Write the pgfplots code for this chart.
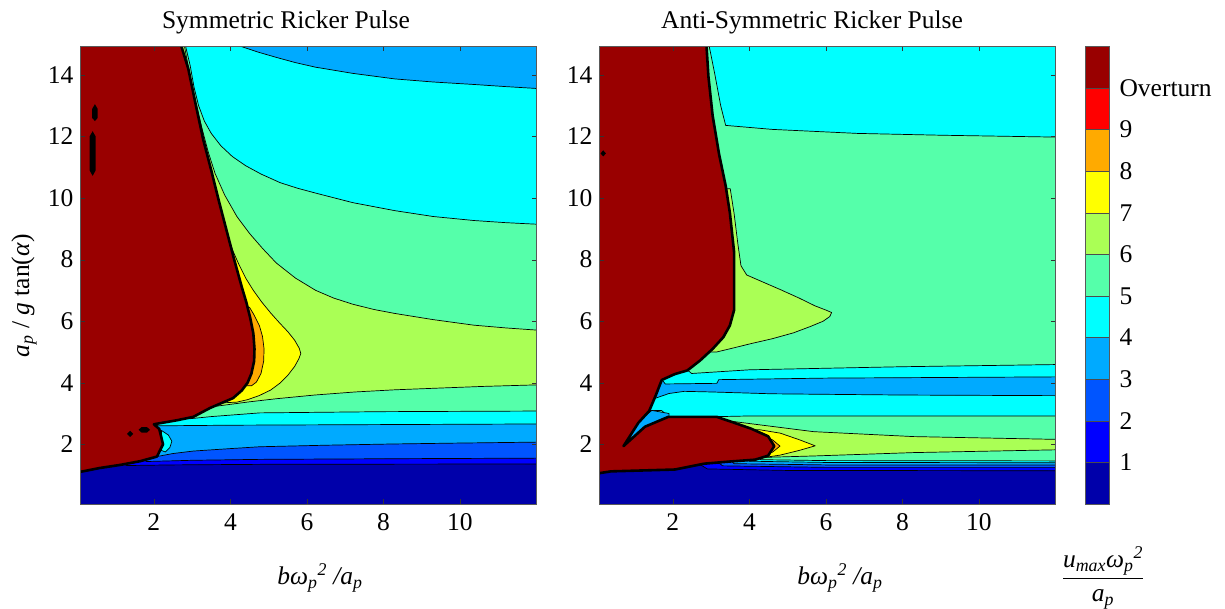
\documentclass[border=0pt]{standalone}
\usepackage{pgfplots}
\pgfplotsset{compat=1.18}
\usepackage{fontspec}
\setmainfont{Liberation Serif}
\newcommand\bigf{\fontsize{25.5}{30}\selectfont}
\definecolor{c0}{RGB}{0,0,170}
\definecolor{c1}{RGB}{0,0,255}
\definecolor{c2}{RGB}{0,85,255}
\definecolor{c3}{RGB}{0,170,255}
\definecolor{c4}{RGB}{0,255,255}
\definecolor{c5}{RGB}{85,255,170}
\definecolor{c6}{RGB}{170,255,85}
\definecolor{c7}{RGB}{255,255,0}
\definecolor{c8}{RGB}{255,170,0}
\definecolor{c9}{RGB}{255,0,0}
\definecolor{c10}{RGB}{153,0,0}
\pgfplotsset{
  cplot/.style={scale only axis, anchor=south west, width=456.5pt, height=457.7pt,
    xmin=0.07, xmax=12, ymin=0.06, ymax=14.93,
    xtick={2,4,6,8,10}, ytick={2,4,6,8,10,12,14},
    tick align=inside, major tick length=5pt, axis on top,
    axis line style={draw=black!65}, tick style={black!80},
    every tick label/.append style={font=\bigf},
    /pgf/number format/assume math mode=true,
    xticklabel style={yshift=-6pt}, yticklabel style={xshift=-3pt}},
  band/.style={fill=#1, draw=black, line width=0.7pt, line join=round},
  red/.style={fill=c10, draw=black, line width=2.6pt, line join=round},
}
\begin{document}
\begin{tikzpicture}[x=1pt,y=1pt]
\path[use as bounding box] (0,0) rectangle (1225,608);
% ---------------- left: symmetric
\begin{axis}[cplot, at={(80pt,104pt)}]
\addplot[fill=c0, draw=none] coordinates {(0,0) (12.5,0) (12.5,15.5) (0,15.5)} -- cycle;
\addplot[band=c1] coordinates {(0.9,1.6) (1.29,1.31) (2.5,1.33) (5,1.35) (12,1.36) (12.5,1.36) (12.5,15.5) (0,15.5) (0,1.6)} -- cycle;
\addplot[band=c2] coordinates {(1.5,1.7) (1.81,1.44) (3,1.48) (4.77,1.51) (8,1.53) (12,1.55) (12.5,1.55) (12.5,15.5) (0,15.5) (0,1.7)} -- cycle;
\addplot[band=c3] coordinates {(1.9,1.9) (2.07,1.6) (2.5,1.7) (3.03,1.78) (4.0,1.86) (4.77,1.92) (6.5,1.97) (8.25,2.01) (10,2.04) (12,2.07) (12.5,2.07) (12.5,15.5) (0,15.5) (0,1.9)} -- cycle;
\addplot[band=c4] coordinates {(1.8,2.8) (2.1,2.6) (4,2.62) (8,2.64) (12,2.66) (12.5,2.66) (12.5,13.56) (12,13.56) (11.2,13.62) (10.36,13.69) (9.3,13.77) (8.3,13.87) (7.2,14.05) (6.23,14.25) (5.7,14.4) (5.2,14.57) (4.7,14.75) (4.27,14.93) (4.2,15.5) (0,15.5) (0,2.8)} -- cycle;
\addplot[band=c5] coordinates {(2.7,3.2) (2.94,2.83) (3.5,2.9) (4.77,3.02) (8,3.06) (12,3.08) (12.5,3.08) (12.5,9.15) (12,9.15) (11.2,9.2) (10.36,9.27) (9.3,9.4) (8.3,9.59) (7.2,9.85) (6.23,10.16) (5.75,10.32) (5.3,10.5) (4.8,10.78) (4.4,11.05) (4.05,11.35) (3.75,11.7) (3.5,12.1) (3.32,12.5) (3.17,13.0) (3.05,13.6) (2.95,14.3) (2.83,14.93) (2.8,15.5) (0,15.5) (0,3.2)} -- cycle;
\addplot[band=c6] coordinates {(3.3,3.4) (3.65,3.24) (4.5,3.38) (5.2,3.48) (6.2,3.6) (7.26,3.7) (8.3,3.77) (9.33,3.82) (10.6,3.88) (12,3.93) (12.5,3.93) (12.5,5.71) (12,5.71) (11.2,5.78) (10.36,5.87) (9.3,6.05) (8.3,6.25) (7.75,6.38) (7.2,6.55) (6.7,6.75) (6.23,7.0) (5.7,7.4) (5.2,7.89) (4.85,8.35) (4.5,8.85) (4.17,9.4) (3.85,10.1) (3.6,10.8) (3.42,11.5) (3.25,12.3) (3.0,13.6) (2.8,14.93) (2.75,15.5) (0,15.5) (0,3.4)} -- cycle;
\addplot[band=c7] coordinates {(3.5,3.35) (3.85,3.35) (4.17,3.37) (4.45,3.45) (4.75,3.58) (5.05,3.76) (5.3,3.99) (5.5,4.24) (5.68,4.53) (5.79,4.78) (5.84,4.95) (5.8,5.12) (5.68,5.38) (5.5,5.66) (5.28,5.95) (5.05,6.27) (4.82,6.62) (4.6,7.0) (4.4,7.4) (4.22,7.85) (4.06,8.3) (3.95,8.7) (3.5,8.7)} -- cycle;
\addplot[band=c8] coordinates {(4.3,3.9) (4.55,3.9) (4.68,4.02) (4.8,4.3) (4.87,4.7) (4.88,5.1) (4.84,5.5) (4.76,5.85) (4.62,6.2) (4.5,6.45) (4.3,6.45)} -- cycle;
\addplot[band=c4] coordinates {(2.2,2.45) (2.38,2.3) (2.47,2.1) (2.42,1.9) (2.3,1.75) (2.2,1.8)} -- cycle;
\addplot[red] coordinates {(-0.5,15.5) (2.72,15.5) (2.72,14.93) (2.9,14.2) (3.1,13.0) (3.29,11.9) (3.5,10.9) (3.7,9.9) (3.91,8.9) (4.1,8.0) (4.3,7.1) (4.42,6.6) (4.52,6.1) (4.6,5.6) (4.63,5.1) (4.62,4.7) (4.55,4.3) (4.45,4.0) (4.3,3.75) (4.07,3.5) (3.47,3.18) (3.03,2.89) (2.6,2.78) (2.0,2.65) (2.14,2.5) (2.24,2.0) (2.08,1.6) (1.64,1.45) (1.12,1.33) (0.59,1.23) (0.06,1.1) (-0.5,1.1)} -- cycle;
\addplot[fill=black, draw=none] coordinates {(0.46,13.05) (0.53,12.9) (0.53,12.6) (0.46,12.5) (0.39,12.6) (0.39,12.9)} -- cycle;
\addplot[fill=black, draw=none] coordinates {(0.4,12.17) (0.48,12.0) (0.48,10.9) (0.4,10.72) (0.32,10.9) (0.32,12.0)} -- cycle;
\addplot[fill=black, draw=none] coordinates {(1.38,2.44) (1.46,2.34) (1.38,2.24) (1.3,2.34)} -- cycle;
\addplot[fill=black, draw=none] coordinates {(1.6,2.47) (1.68,2.56) (1.82,2.56) (1.9,2.47) (1.82,2.38) (1.68,2.38)} -- cycle;
\end{axis}
% ---------------- right: anti-symmetric
\begin{axis}[cplot, at={(599pt,104pt)}]
\addplot[fill=c0, draw=none] coordinates {(0,0) (12.5,0) (12.5,15.5) (0,15.5)} -- cycle;
\addplot[band=c1] coordinates {(2.5,1.5) (2.9,1.2) (5,1.15) (12,1.14) (12.5,1.14) (12.5,15.5) (0,15.5) (0,1.5)} -- cycle;
\addplot[band=c2] coordinates {(3.0,1.6) (3.3,1.3) (6,1.25) (12,1.25) (12.5,1.25) (12.5,15.5) (0,15.5) (0,1.6)} -- cycle;
\addplot[band=c3] coordinates {(3.4,1.6) (3.6,1.37) (6,1.33) (12,1.33) (12.5,1.33) (12.5,15.5) (0,15.5) (0,1.6)} -- cycle;
\addplot[band=c4] coordinates {(3.8,1.7) (4.0,1.45) (6,1.41) (12,1.40) (12.5,1.40) (12.5,15.5) (0,15.5) (0,1.7)} -- cycle;
\addplot[band=c5] coordinates {(4.1,1.7) (4.3,1.5) (6,1.47) (12,1.46) (12.5,1.46) (12.5,15.5) (0,15.5) (0,1.7)} -- cycle;
\addplot[band=c4] coordinates {(1.7,3.1) (1.9,2.9) (3.2,2.9) (4.0,2.92) (8,2.92) (12,2.92) (12.5,2.92) (12.5,15.5) (0,15.5) (0,3.1)} -- cycle;
\addplot[band=c3] coordinates {(1.3,3.3) (1.55,3.5) (1.9,3.65) (2.3,3.72) (3.0,3.7) (4.6,3.64) (8,3.6) (12,3.58) (12.5,3.58) (12.5,15.5) (0,15.5) (0,3.3)} -- cycle;
\addplot[band=c4] coordinates {(1.6,4.3) (1.8,3.96) (3.15,3.98) (3.2,4.1) (6,4.15) (12,4.19) (12.5,4.19) (12.5,15.5) (0,15.5) (0,4.3)} -- cycle;
\addplot[band=c5] coordinates {(2.2,4.6) (2.49,4.3) (4,4.42) (8,4.52) (12,4.59) (12.5,4.59) (12.5,11.98) (12,11.98) (9.04,12.04) (6.82,12.1) (4.6,12.23) (3.38,12.36) (3.25,13.0) (3.1,14.0) (2.95,14.93) (2.95,15.5) (0,15.5) (0,4.6)} -- cycle;
\addplot[band=c6] coordinates {(2.5,10.3) (3.5,10.3) (3.6,9.5) (3.7,8.5) (3.78,7.8) (3.93,7.5) (4.3,7.3) (4.82,7.02) (5.3,6.75) (5.71,6.5) (6.0,6.36) (6.15,6.28) (6.1,6.15) (5.93,6.0) (5.6,5.83) (5.15,5.62) (4.6,5.43) (4.04,5.27) (3.55,5.12) (3.15,5.0) (2.5,5.0)} -- cycle;
\addplot[band=c6] coordinates {(3.3,1.55) (3.67,1.55) (5.67,1.62) (8.29,1.73) (12,1.82) (12.5,1.82) (12.5,2.16) (12,2.16) (8.29,2.25) (5.68,2.41) (3.58,2.74) (3.3,2.74)} -- cycle;
\addplot[band=c7] coordinates {(4.0,1.55) (4.28,1.55) (4.81,1.65) (5.3,1.8) (5.72,1.95) (5.3,2.15) (4.81,2.36) (4.28,2.47) (4.0,2.47)} -- cycle;
\addplot[band=c8] coordinates {(4.3,2.2) (4.6,2.15) (4.8,1.94) (4.6,1.74) (4.3,1.7)} -- cycle;
\addplot[band=c3] coordinates {(0.65,1.9) (1.1,2.75) (1.45,3.1) (1.9,3.0) (1.9,2.9) (1.27,2.57)} -- cycle;
\addplot[red] coordinates {(-0.5,15.5) (2.88,15.5) (2.88,14.93) (2.93,13.94) (3.04,12.67) (3.21,11.41) (3.38,10.4) (3.49,9.52) (3.6,8.25) (3.6,6.36) (3.49,5.86) (3.32,5.48) (3.04,5.1) (2.71,4.72) (2.38,4.4) (2.05,4.28) (1.71,4.09) (1.55,3.58) (1.38,3.08) (1.1,2.7) (0.71,1.94) (1.27,2.57) (1.88,2.89) (3.15,2.89) (3.6,2.7) (4.04,2.51) (4.49,2.26) (4.65,1.94) (4.49,1.63) (4.15,1.5) (3.49,1.44) (2.82,1.37) (2.05,1.18) (0.38,1.12) (0.07,1.06) (-0.5,1.06)} -- cycle;
\addplot[fill=black, draw=none] coordinates {(0.18,11.55) (0.25,11.45) (0.18,11.35) (0.11,11.45)} -- cycle;
\end{axis}
% ---------------- colorbar
\begin{axis}[scale only axis, anchor=south west, at={(1085pt,104pt)}, width=24pt, height=457.7pt,
  xmin=0, xmax=1, ymin=0, ymax=11, xtick=\empty, ytick={1,2,3,4,5,6,7,8,9,10},
  yticklabels={1,2,3,4,5,6,7,8,9,Overturn}, yticklabel pos=right, major tick length=0pt,
  axis line style={draw=black!65}, every tick label/.append style={font=\bigf},
  yticklabel style={anchor=west, xshift=7pt}, axis on top]
\addplot[fill=c0, draw=black!70] coordinates {(0,0) (1,0) (1,1) (0,1)} -- cycle;
\addplot[fill=c1, draw=black!70] coordinates {(0,1) (1,1) (1,2) (0,2)} -- cycle;
\addplot[fill=c2, draw=black!70] coordinates {(0,2) (1,2) (1,3) (0,3)} -- cycle;
\addplot[fill=c3, draw=black!70] coordinates {(0,3) (1,3) (1,4) (0,4)} -- cycle;
\addplot[fill=c4, draw=black!70] coordinates {(0,4) (1,4) (1,5) (0,5)} -- cycle;
\addplot[fill=c5, draw=black!70] coordinates {(0,5) (1,5) (1,6) (0,6)} -- cycle;
\addplot[fill=c6, draw=black!70] coordinates {(0,6) (1,6) (1,7) (0,7)} -- cycle;
\addplot[fill=c7, draw=black!70] coordinates {(0,7) (1,7) (1,8) (0,8)} -- cycle;
\addplot[fill=c8, draw=black!70] coordinates {(0,8) (1,8) (1,9) (0,9)} -- cycle;
\addplot[fill=c9, draw=black!70] coordinates {(0,9) (1,9) (1,10) (0,10)} -- cycle;
\addplot[fill=c10, draw=black!70] coordinates {(0,10) (1,10) (1,11) (0,11)} -- cycle;
\end{axis}
% ---------------- texts
\node[font=\bigf] at (286,586) {Symmetric Ricker Pulse};
\node[font=\bigf] at (812,586) {Anti-Symmetric Ricker Pulse};
\node[font=\bigf] at (320,30) {\textit{bω\textsubscript{p}\textsuperscript{2} /a\textsubscript{p}}};
\node[font=\bigf] at (840,30) {\textit{bω\textsubscript{p}\textsuperscript{2} /a\textsubscript{p}}};
\node[font=\bigf, rotate=90] at (24,312) {\textit{a\textsubscript{p}} / \textit{g} tan(\textit{α})};
\node[font=\bigf] at (1103,30) {$\displaystyle\frac{\mbox{\textit{u\textsubscript{max}ω\textsubscript{p}\textsuperscript{2}}}}{\mbox{\textit{a\textsubscript{p}}}}$};
\end{tikzpicture}
\end{document}
